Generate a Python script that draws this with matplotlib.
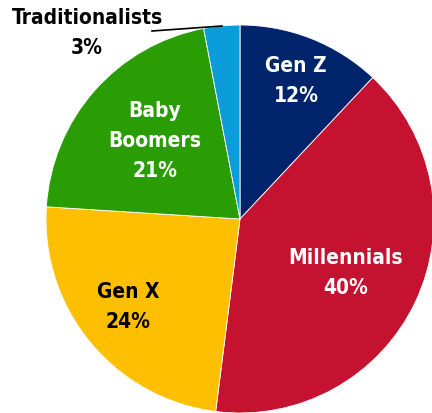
import matplotlib
matplotlib.use("Agg")
import matplotlib.pyplot as plt

plt.rcParams['font.family'] = ['DejaVu Sans']

# Workforce share by generation, clockwise from 12 o'clock
generations = ["Gen Z", "Millennials", "Gen X", "Baby\nBoomers", "Traditionalists"]
shares = [12, 40, 24, 21, 3]
colors = ["#00246B", "#C41230", "#FDBF00", "#2A9D05", "#0A9CDB"]

W, H = 432, 413
fig = plt.figure(figsize=(W / 100, H / 100), dpi=100)
ax = fig.add_axes([0, 0, 1, 1])

cx, cy, r = 240, H - 219, 194
ax.pie(shares, colors=colors, startangle=90, counterclock=False,
       center=(cx, cy), radius=r, frame=True,
       wedgeprops=dict(edgecolor="white", linewidth=0.6))
ax.set_xlim(0, W)
ax.set_ylim(0, H)
ax.set_aspect("equal")
ax.axis("off")

# label positions in pixel coords (x, y from top)
label_pos = [(296, 81), (346, 273), (128, 307), (155, 141), (87, 33)]
text_colors = ["white", "white", "black", "white", "black"]
for name, val, (x, y), tc in zip(generations, shares, label_pos, text_colors):
    ax.text(x, H - y, f"{name}\n{val}%", ha="center", va="center",
            fontsize=15, fontweight="bold", fontstretch="condensed",
            color=tc, linespacing=1.6)

# leader line for the small slice
ax.plot([152, 222], [H - 31, H - 26], color="black", lw=1.2, clip_on=False)

fig.savefig("out.png", dpi=100)
